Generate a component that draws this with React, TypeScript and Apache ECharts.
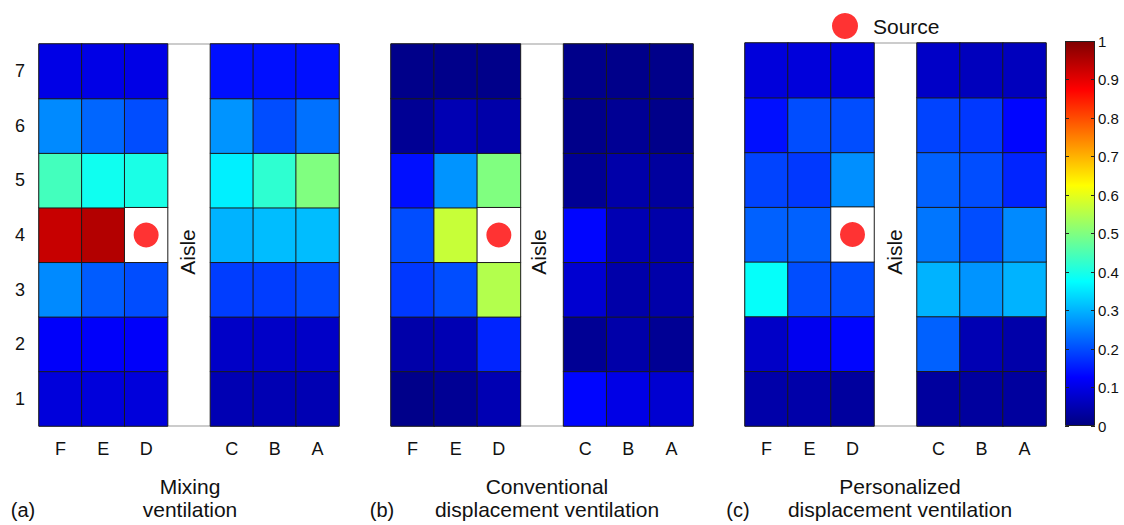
import React, { useEffect, useRef } from "react";
import * as echarts from "echarts";

// Seat layout: columns (aisle is the blank one) and rows
const columnLabels = ["F", "E", "D", "", "C", "B", "A"];
const rowLabels = ["1", "2", "3", "4", "5", "6", "7"];
const seatColumnIndex = [0, 1, 2, 4, 5, 6]; // F E D | C B A
const sourceSeat = [2, 3]; // seat D4

// Normalised concentration, rows 1..7 (bottom to top), columns F E D C B A
const mixingValues: (number | null)[][] = [
  [0.09, 0.09, 0.09, 0.05, 0.05, 0.05],
  [0.12, 0.12, 0.12, 0.07, 0.07, 0.07],
  [0.26, 0.215, 0.2, 0.185, 0.185, 0.195],
  [0.93, 0.95, null, 0.3, 0.31, 0.31],
  [0.44, 0.39, 0.4, 0.36, 0.42, 0.5],
  [0.26, 0.225, 0.2, 0.27, 0.2, 0.235],
  [0.1, 0.1, 0.1, 0.14, 0.14, 0.14],
];

const conventionalValues: (number | null)[][] = [
  [0.01, 0.02, 0.05, 0.13, 0.1, 0.08],
  [0.04, 0.05, 0.16, 0.02, 0.04, 0.02],
  [0.18, 0.2, 0.55, 0.08, 0.04, 0.04],
  [0.2, 0.57, null, 0.13, 0.05, 0.04],
  [0.14, 0.27, 0.5, 0.02, 0.04, 0.03],
  [0.02, 0.05, 0.04, 0.01, 0.02, 0.01],
  [0.01, 0.01, 0.01, 0.01, 0.01, 0.01],
];

const personalizedValues: (number | null)[][] = [
  [0.04, 0.04, 0.03, 0.03, 0.03, 0.03],
  [0.07, 0.11, 0.13, 0.22, 0.05, 0.04],
  [0.38, 0.2, 0.2, 0.3, 0.27, 0.3],
  [0.22, 0.22, null, 0.24, 0.2, 0.26],
  [0.19, 0.18, 0.265, 0.22, 0.2, 0.16],
  [0.14, 0.2, 0.2, 0.19, 0.18, 0.13],
  [0.09, 0.09, 0.09, 0.07, 0.06, 0.06],
];

const panelTitles = [
  "Mixing\nventilation",
  "Conventional\ndisplacement ventilation",
  "Personalized\ndisplacement ventilation",
];
const panelTags = ["(a)", "(b)", "(c)"];

const jet = [
  "#000080",
  "#0000ff",
  "#0080ff",
  "#00ffff",
  "#80ff80",
  "#ffff00",
  "#ff8000",
  "#ff0000",
  "#800000",
];

const FONT = "'Liberation Sans', Arial, sans-serif";

function toCells(matrix: (number | null)[][]) {
  const out: [number, number, number][] = [];
  matrix.forEach((row, r) =>
    row.forEach((v, c) => {
      if (v !== null) out.push([seatColumnIndex[c], r, v]);
    })
  );
  return out;
}

export default function App() {
  const ref = useRef<HTMLDivElement>(null);

  useEffect(() => {
    document.body.style.margin = "0";
    if (!ref.current) return;
    const chart = echarts.init(ref.current, undefined, { renderer: "svg" });

    const grids = [
      { left: 39, top: 44, width: 300, height: 382 },
      { left: 391, top: 44, width: 302, height: 382 },
      { left: 745, top: 43, width: 301, height: 383 },
    ];
    const panels = [mixingValues, conventionalValues, personalizedValues];

    const xAxes: any[] = grids.map((_, i) => ({
      type: "category",
      gridIndex: i,
      data: columnLabels,
      axisLine: { show: false },
      axisTick: { show: false },
      splitLine: { show: false },
      axisLabel: { fontSize: 18, color: "#111", margin: 14, fontFamily: FONT },
    }));
    const yAxes: any[] = grids.map((_, i) => ({
      type: "category",
      gridIndex: i,
      data: rowLabels,
      axisLine: { show: false },
      axisTick: { show: false },
      splitLine: { show: false },
      axisLabel: {
        show: i === 0,
        fontSize: 18,
        color: "#111",
        margin: 14,
        fontFamily: FONT,
      },
    }));

    // colorbar axes
    xAxes.push({
      type: "category",
      gridIndex: 3,
      data: [""],
      show: false,
    });
    yAxes.push({
      type: "value",
      gridIndex: 3,
      min: 0,
      max: 1,
      interval: 0.1,
      position: "right",
      z: 5,
      axisLine: { show: false },
      splitLine: { show: false },
      axisTick: { show: true, inside: true, length: 4, lineStyle: { color: "#222" } },
      axisLabel: {
        fontSize: 15,
        color: "#111",
        margin: 3,
        fontFamily: FONT,
        formatter: (v: number) => String(+v.toFixed(1)),
      },
    });
    yAxes.push({
      type: "value",
      gridIndex: 3,
      min: 0,
      max: 1,
      interval: 0.1,
      position: "left",
      z: 5,
      axisLine: { show: false },
      splitLine: { show: false },
      axisTick: { show: true, inside: true, length: 4, lineStyle: { color: "#222" } },
      axisLabel: { show: false },
    });

    const series: any[] = [];
    panels.forEach((m, i) => {
      series.push({
        type: "heatmap",
        xAxisIndex: i,
        yAxisIndex: i,
        data: toCells(m),
        itemStyle: { borderColor: "#1a1a1a", borderWidth: 1 },
        emphasis: { disabled: true },
      });
    });
    // white outlined seat that holds the source
    panels.forEach((_, i) => {
      series.push({
        type: "heatmap",
        xAxisIndex: i,
        yAxisIndex: i,
        data: [[sourceSeat[0], sourceSeat[1], 0]],
        itemStyle: { borderColor: "#1a1a1a", borderWidth: 1 },
        emphasis: { disabled: true },
      });
    });
    panels.forEach((_, i) => {
      series.push({
        type: "scatter",
        name: "Source",
        xAxisIndex: i,
        yAxisIndex: i,
        data: [sourceSeat],
        symbol: "circle",
        symbolSize: 25,
        itemStyle: { color: "#ff0000" },
        z: 6,
        emphasis: { disabled: true },
      });
    });
    series.push({
      type: "bar",
      xAxisIndex: 3,
      yAxisIndex: 3,
      data: [1],
      barWidth: "100%",
      itemStyle: {
        borderColor: "#222",
        borderWidth: 1,
        color: new echarts.graphic.LinearGradient(
          0,
          1,
          0,
          0,
          jet.map((c, k) => ({ offset: k / (jet.length - 1), color: c }))
        ),
      },
      emphasis: { disabled: true },
    });

    const aisleX = [187, 538, 894];
    const titleX = [190, 547, 900];
    const tagX = [23, 382, 738];

    const graphic: any[] = [];
    aisleX.forEach((x) =>
      graphic.push({
        type: "text",
        x,
        y: 252,
        rotation: Math.PI / 2,
        style: {
          text: "Aisle",
          fontSize: 21,
          fontFamily: FONT,
          fill: "#111",
          textAlign: "center",
          textVerticalAlign: "middle",
        },
        z: 10,
      })
    );
    panelTitles.forEach((t, i) => {
      graphic.push({
        type: "text",
        x: titleX[i],
        y: 498,
        style: {
          text: t,
          fontSize: 21,
          lineHeight: 23,
          fontFamily: FONT,
          fill: "#111",
          textAlign: "center",
          textVerticalAlign: "middle",
        },
      });
      graphic.push({
        type: "text",
        x: tagX[i],
        y: 510,
        style: {
          text: panelTags[i],
          fontSize: 20,
          fontFamily: FONT,
          fill: "#111",
          textAlign: "center",
          textVerticalAlign: "middle",
        },
      });
    });

    chart.setOption({
      animation: false,
      backgroundColor: "#ffffff",
      grid: [
        ...grids.map((g) => ({ ...g, show: true, borderColor: "#999", borderWidth: 1 })),
        { left: 1065, top: 41, width: 30, height: 385 },
      ],
      xAxis: xAxes,
      yAxis: yAxes,
      visualMap: [
        {
          type: "continuous",
          show: false,
          min: 0,
          max: 1,
          seriesIndex: [0, 1, 2],
          inRange: { color: jet },
        },
        {
          type: "continuous",
          show: false,
          min: 0,
          max: 1,
          seriesIndex: [3, 4, 5],
          inRange: { color: ["#ffffff", "#ffffff"] },
        },
      ],
      legend: {
        data: ["Source"],
        left: 827,
        top: 8,
        icon: "circle",
        itemWidth: 26,
        itemHeight: 26,
        selectedMode: false,
        textStyle: { fontSize: 21, fontFamily: FONT, color: "#111", padding: [0, 0, 0, 10] },
      },
      series,
      graphic,
    });

    return () => chart.dispose();
  }, []);

  return <div ref={ref} style={{ width: 1124, height: 525 }} />;
}
